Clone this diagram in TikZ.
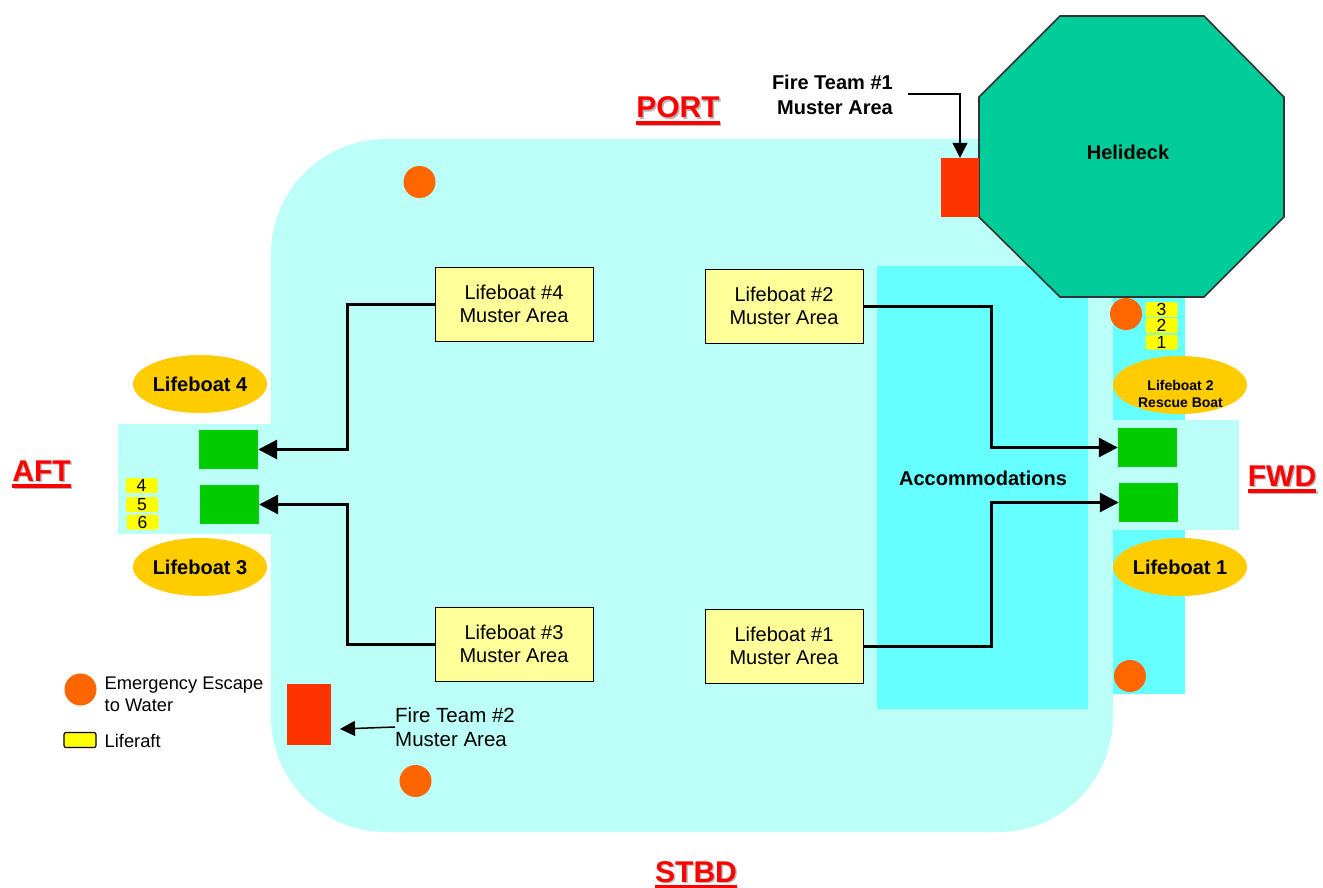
\documentclass[tikz,border=0pt]{standalone}
\usepackage{fontspec}
\setmainfont{Liberation Sans}
\usetikzlibrary{arrows.meta,shapes.geometric}
\definecolor{deckpale}{HTML}{BBFFF8}
\definecolor{deckcyan}{HTML}{66FFFF}
\definecolor{boatgreen}{HTML}{00CC00}
\definecolor{helipad}{HTML}{00CC99}
\definecolor{fired}{HTML}{FF3300}
\definecolor{escape}{HTML}{FF6600}
\definecolor{boatgold}{HTML}{FFCC00}
\definecolor{musterbg}{HTML}{FFFF99}
\definecolor{raftyellow}{HTML}{FFFF00}
\definecolor{shadowgray}{HTML}{B8B8B8}
\newcommand{\dirtitle}[1]{\sbox0{\textbf{#1}}\rlap{\kern1.5pt\raisebox{-1.5pt}{\textcolor{shadowgray}{\textbf{#1}}}}\rlap{\kern1.5pt\raisebox{-8pt}{\textcolor{shadowgray}{\rule{\wd0}{3.5pt}}}}\rlap{\raisebox{-6.8pt}{\textcolor{red}{\rule{\wd0}{3.5pt}}}}\textcolor{red}{\textbf{#1}}}
\tikzset{
  muster/.style={draw=black,line width=1pt,fill=musterbg,minimum width=158pt,minimum height=74pt,inner sep=0pt,align=center,font=\fontsize{20}{23}\selectfont},
  boat/.style={fill=boatgreen,minimum width=59pt,minimum height=39pt,inner sep=0pt},
  firebox/.style={fill=fired,inner sep=0pt},
  hole/.style={circle,fill=escape,minimum size=32pt,inner sep=0pt},
  craft/.style={ellipse,fill=boatgold,minimum width=134pt,minimum height=58pt,inner sep=0pt,align=center,font=\fontsize{20}{23}\selectfont\bfseries},
  raft/.style={fill=raftyellow,rounded corners=1.5pt,minimum width=32pt,minimum height=15pt,inner sep=0pt,font=\fontsize{17.5}{17.5}\selectfont},
  dirlabel/.style={inner sep=0pt,anchor=base,font=\fontsize{30}{30}\selectfont},
  route/.style={line width=3pt,-{Triangle[length=19pt,width=19pt]}},
  pointer/.style={line width=1.5pt,-{Triangle[length=15pt,width=15pt]}},
}
\begin{document}
\begin{tikzpicture}[x=1pt,y=-1pt]
\useasboundingbox (0,0) rectangle (1323,888);
% deck
\fill[deckpale,rounded corners=115pt] (271,139) rectangle (1113,832);
\fill[deckpale] (118,424) rectangle (272,534);
\fill[deckpale] (1112,420) rectangle (1239,530);
\fill[deckcyan] (877,266) rectangle (1088,709);
\fill[deckcyan] (1113,290) rectangle (1185,420);
\fill[deckcyan] (1113,530) rectangle (1185,694);
% helideck
\filldraw[fill=helipad,draw=black!80,line width=1.6pt] (1060,16) -- (1204,16) -- (1284,97) -- (1284,217) -- (1204,297) -- (1060,297) -- (979,217) -- (979,97) -- cycle;
\node[inner sep=0pt] (heli) at (1128,152) {\fontsize{20}{23}\selectfont\bfseries Helideck};
% fire areas
\node[firebox,minimum width=38pt,minimum height=59pt] (fire1) at (960,187.5) {};
\node[firebox,minimum width=44pt,minimum height=61pt] (fire2) at (309,714.5) {};
% escapes
\node[hole] (esc1) at (419.5,182) {};
\node[hole] (esc2) at (415.5,781) {};
\node[hole] (esc3) at (1126,314) {};
\node[hole] (esc4) at (1130,676) {};
\node[hole] (esclegend) at (80.5,689.5) {};
% boats
\node[boat] (g4) at (228.5,449.5) {};
\node[boat] (g3) at (229.5,504.5) {};
\node[boat] (g2) at (1147.5,447.5) {};
\node[boat] (g1) at (1148.5,502.5) {};
% craft
\node[craft] (c4) at (200,384) {Lifeboat 4};
\node[craft] (c3) at (200,567) {Lifeboat 3};
\node[craft] (c2) at (1180,385) {};
\node[inner sep=0pt,align=center,font=\fontsize{14}{17}\selectfont\bfseries] (c2t) at (1180.5,393.5) {Lifeboat 2\\Rescue Boat};
\node[craft] (c1) at (1180,567) {Lifeboat 1};
% rafts
\node[raft] (r3) at (1161.5,309.5) {3};
\node[raft] (r2) at (1161.5,325.5) {2};
\node[raft] (r1) at (1161.5,342) {1};
\node[raft] (r4) at (141.5,485.5) {4};
\node[raft] (r5) at (142,504.5) {5};
\node[raft] (r6) at (142.5,522) {6};
% muster
\node[muster] (m4) at (514,304) {Lifeboat \#4\\Muster Area};
\node[muster] (m2) at (784,306) {Lifeboat \#2\\Muster Area};
\node[muster] (m3) at (514,644) {Lifeboat \#3\\Muster Area};
\node[muster] (m1) at (784,646) {Lifeboat \#1\\Muster Area};
\node[inner sep=0pt] (acc) at (983,478) {\fontsize{20}{23}\selectfont\bfseries Accommodations};
% routes
\coordinate (j4) at (347,304);
\coordinate (j3) at (347,644);
\coordinate (j2) at (991,306);
\coordinate (j1) at (991,646);
\draw[route] (m4.west) -- (j4) |- (g4.east);
\draw[route] (m3.west) -- (j3) |- (g3.east);
\draw[route] (m2.east) -- (j2) |- (g2.west);
\draw[route] (m1.east) -- (j1) |- (g1.west);
% fire labels
\node[inner sep=0pt,anchor=east,align=right,font=\fontsize{20}{25}\selectfont\bfseries] (f1t) at (893,95) {Fire Team \#1\\Muster Area};
\coordinate (f1s) at (908,94);
\draw[pointer] (f1s) -| (fire1.north);
\node[inner sep=0pt,anchor=west,align=left,font=\fontsize{20.5}{24}\selectfont] (f2t) at (395,727) {Fire Team \#2\\Muster Area};
\coordinate (f2e) at (340,729);
\draw[pointer] (f2t.west) -- (f2e);
% directions
\node[dirlabel] (port) at (678,118) {\dirtitle{PORT}};
\node[dirlabel] (stbd) at (696,882) {\dirtitle{STBD}};
\node[dirlabel] (aft) at (41.5,481) {\dirtitle{AFT}};
\node[dirlabel] (fwd) at (1282,486) {\dirtitle{FWD}};
% legend
\node[inner sep=0pt,anchor=west,align=left,font=\fontsize{18.3}{22}\selectfont] (esct) at (104.5,694.5) {Emergency Escape\\to Water};
\node[fill=raftyellow,draw=black,line width=1.2pt,rounded corners=2pt,minimum width=32pt,minimum height=15pt,inner sep=0pt] (raftlegend) at (80,740) {};
\node[inner sep=0pt,anchor=west,font=\fontsize{18.3}{22}\selectfont] (raftt) at (104.5,741) {Liferaft};
\end{tikzpicture}
\end{document}
